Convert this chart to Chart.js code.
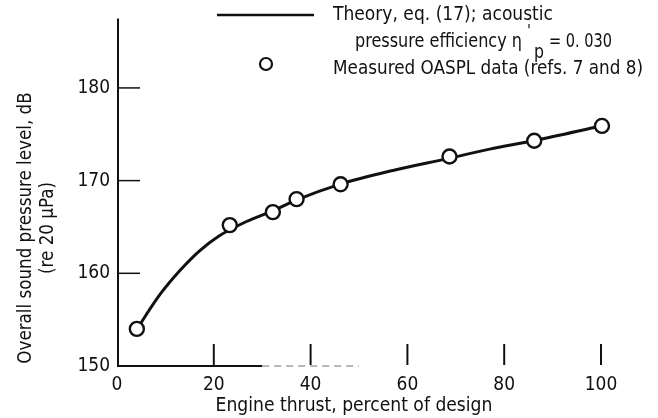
<!DOCTYPE html>
<html>
<head>
<meta charset="utf-8">
<script src="https://cdn.jsdelivr.net/npm/chart.js@4/dist/chart.umd.min.js"></script>
<style>
html,body{margin:0;padding:0;background:#fff;}
#wrap{position:relative;width:658px;height:418px;}
</style>
</head>
<body>
<div id="wrap"><canvas id="c" width="658" height="418"></canvas></div>
<script>
// ---- data ----
const theoryThrust = [4.2, 6, 9, 13, 17, 21, 26, 32, 37, 46, 57, 68.5, 77, 86, 100];
const theoryOASPL  = [154.0, 155.5, 157.8, 160.3, 162.4, 164.0, 165.4, 166.7, 167.9, 169.6, 171.1, 172.4, 173.4, 174.3, 175.9];
const measuredThrust = [4.1, 23.3, 32.2, 37.1, 46.2, 68.7, 86.2, 100.2];
const measuredOASPL  = [154.0, 165.2, 166.6, 168.0, 169.6, 172.6, 174.3, 175.9];
const xTicks = [0, 20, 40, 60, 80, 100];
const yTicks = [150, 160, 170, 180];
const xTitle = "Engine thrust, percent of design";
const yTitle1 = "Overall sound pressure level, dB";
const yTitle2 = "(re 20 \u00b5Pa)";
const legendTheory1 = "Theory, eq. (17); acoustic";
const legendTheory2a = "pressure efficiency \u03b7";
const legendTheory2b = "= 0. 030";
const legendMeasured = "Measured OASPL data (refs. 7 and 8)";

const FONT = "'DejaVu Sans Condensed', 'DejaVu Sans', sans-serif";
const ink = '#111';

const zip = (xs, ys) => xs.map((x, i) => ({x, y: ys[i]}));

function txt(ctx, s, x, y, size, sx, align) {
  ctx.save();
  ctx.font = size + 'px ' + FONT;
  ctx.textAlign = align || 'left';
  ctx.translate(x, y);
  ctx.scale(sx, 1);
  ctx.fillText(s, 0, 0);
  const w = ctx.measureText(s).width * sx;
  ctx.restore();
  return w;
}
function fitTxt(ctx, s, x0, x1, y, size) {
  ctx.save();
  ctx.font = size + 'px ' + FONT;
  const w = ctx.measureText(s).width;
  ctx.restore();
  return txt(ctx, s, x0, y, size, (x1 - x0) / w);
}

const decor = {
  id: 'decor',
  afterDraw(chart) {
    const ctx = chart.ctx;
    const xs = chart.scales.x, ys = chart.scales.y;
    const a = chart.chartArea;
    const yb = ys.getPixelForValue(150);
    ctx.save();
    ctx.strokeStyle = ink;
    ctx.lineCap = 'butt';
    // y axis
    ctx.lineWidth = 2;
    ctx.beginPath();
    ctx.moveTo(a.left + 1, yb + 1);
    ctx.lineTo(a.left + 1, a.top);
    ctx.stroke();
    // x axis (solid part, then faint part as in the scan)
    ctx.lineWidth = 1.8;
    ctx.beginPath();
    ctx.moveTo(a.left, yb);
    ctx.lineTo(xs.getPixelForValue(30), yb);
    ctx.stroke();
    ctx.strokeStyle = '#a0a0a0';
    ctx.lineWidth = 1.5;
    ctx.setLineDash([7, 5]);
    ctx.beginPath();
    ctx.moveTo(xs.getPixelForValue(30), yb);
    ctx.lineTo(xs.getPixelForValue(50), yb);
    ctx.stroke();
    ctx.setLineDash([]);
    ctx.strokeStyle = ink;
    // inward ticks
    ctx.lineWidth = 1.5;
    yTicks.filter(v => v > 150).forEach(v => {
      const py = ys.getPixelForValue(v);
      ctx.beginPath(); ctx.moveTo(a.left + 1, py); ctx.lineTo(a.left + 23, py); ctx.stroke();
    });
    ctx.lineWidth = 2;
    xTicks.filter(v => v > 0).forEach(v => {
      const px = xs.getPixelForValue(v);
      ctx.beginPath(); ctx.moveTo(px, yb - 1); ctx.lineTo(px, yb - 22); ctx.stroke();
    });
    // axis titles
    ctx.fillStyle = ink;
    ctx.textBaseline = 'alphabetic';
    txt(ctx, xTitle, 354, 411, 20, 0.955, 'center');
    ctx.save();
    ctx.translate(31, 228);
    ctx.rotate(-Math.PI / 2);
    txt(ctx, yTitle1, 0, 0, 20, 0.93, 'center');
    txt(ctx, yTitle2, 0, 22, 20, 0.93, 'center');
    ctx.restore();
    // legend
    ctx.lineWidth = 2.5;
    ctx.beginPath(); ctx.moveTo(217, 15); ctx.lineTo(314, 15); ctx.stroke();
    ctx.lineWidth = 2.2;
    ctx.fillStyle = '#fff';
    ctx.beginPath(); ctx.arc(266, 64, 6, 0, Math.PI * 2); ctx.fill(); ctx.stroke();
    ctx.fillStyle = ink;
    fitTxt(ctx, legendTheory1, 333, 553, 20, 20);
    fitTxt(ctx, legendTheory2a, 355, 522, 47, 20);
    txt(ctx, "'", 527, 36, 16, 1);
    txt(ctx, 'p', 534, 58, 19, 0.92);
    fitTxt(ctx, legendTheory2b, 549, 612, 47, 20);
    fitTxt(ctx, legendMeasured, 333, 643, 74, 20);
    ctx.restore();
  }
};

new Chart(document.getElementById('c'), {
  type: 'scatter',
  data: {
    datasets: [
      {
        label: 'Theory',
        data: zip(theoryThrust, theoryOASPL),
        showLine: true,
        borderColor: ink,
        borderWidth: 3,
        pointRadius: 0,
        cubicInterpolationMode: 'monotone',
        clip: false,
        order: 2
      },
      {
        label: 'Measured',
        data: zip(measuredThrust, measuredOASPL),
        showLine: false,
        pointRadius: 7,
        pointBorderWidth: 2.4,
        pointBorderColor: ink,
        pointBackgroundColor: '#fff',
        clip: false,
        order: 1
      }
    ]
  },
  options: {
    responsive: false,
    animation: false,
    layout: {padding: {top: 16, right: 57, left: 0, bottom: 0}},
    plugins: {legend: {display: false}, tooltip: {enabled: false}},
    scales: {
      x: {
        type: 'linear', min: 0, max: 100,
        afterBuildTicks: s => { s.ticks = xTicks.map(v => ({value: v})); },
        afterFit: s => { s.height = 52; },
        grid: {display: false, drawTicks: false},
        border: {display: false},
        ticks: {color: ink, padding: 8, font: {family: FONT, size: 19}, maxRotation: 0}
      },
      y: {
        type: 'linear', min: 150, max: 187.5,
        afterBuildTicks: s => { s.ticks = yTicks.map(v => ({value: v})); },
        afterFit: s => { s.width = 117; },
        grid: {display: false, drawTicks: false},
        border: {display: false},
        ticks: {color: ink, padding: 7, font: {family: FONT, size: 19}}
      }
    }
  },
  plugins: [decor]
});
</script>
</body>
</html>
